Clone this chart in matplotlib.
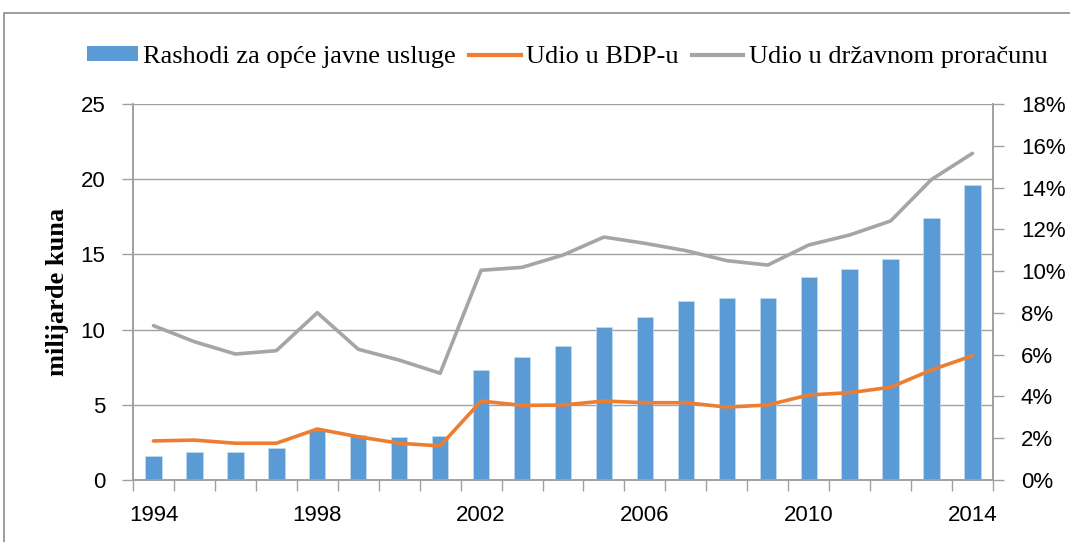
import numpy as np
import matplotlib
matplotlib.use("Agg")
from matplotlib import pyplot as plt
from matplotlib.patches import Rectangle, Patch
from matplotlib.lines import Line2D
from matplotlib.ticker import FuncFormatter, MultipleLocator

years = list(range(1994, 2015))
rashodi = [1.6, 1.86, 1.86, 2.1, 3.32, 3.0, 2.88, 2.93, 7.31, 8.16, 8.91,
           10.17, 10.84, 11.88, 12.08, 12.12, 13.48, 14.01, 14.69, 17.44, 19.63]
udio_bdp = [1.87, 1.91, 1.76, 1.76, 2.44, 2.07, 1.76, 1.63, 3.78, 3.57, 3.59,
            3.78, 3.70, 3.70, 3.49, 3.59, 4.07, 4.18, 4.44, 5.27, 5.95]
udio_proracun = [7.39, 6.62, 6.03, 6.19, 8.01, 6.26, 5.74, 5.11, 10.04, 10.18, 10.77,
                 11.63, 11.33, 10.98, 10.50, 10.29, 11.25, 11.73, 12.40, 14.39, 15.64]
year_labels = [str(y) if (y - 1994) % 4 == 0 else "" for y in years]

blue = "#5b9bd5"
orange = "#ed7d31"
grey = "#a5a5a5"
axis_grey = "#a0a0a0"

tick_font = "Liberation Sans"
serif_font = "Liberation Serif"

fig = plt.figure(figsize=(10.7, 5.42), dpi=100)
ax = fig.add_axes([133 / 1070, 62 / 542, 860 / 1070, 376 / 542])
ax2 = ax.twinx()

x = np.arange(len(years))
ax.bar(x, rashodi, width=0.4, color=blue, edgecolor="#c5dcf0", linewidth=0.5, zorder=2)
ax.set_xlim(-0.5, len(years) - 0.5)
ax.set_ylim(0, 25)
ax.yaxis.set_major_locator(MultipleLocator(5))
ax.grid(axis="y", color=axis_grey, linewidth=1.0, zorder=0)
ax.set_axisbelow(True)

ax2.plot(x, udio_bdp, color=orange, linewidth=2.6, solid_capstyle="round", zorder=3)
ax2.plot(x, udio_proracun, color=grey, linewidth=2.6, solid_capstyle="round", zorder=3)
ax2.set_ylim(0, 18)
ax2.yaxis.set_major_locator(MultipleLocator(2))
ax2.yaxis.set_major_formatter(FuncFormatter(lambda v, p: f"{v:.0f}%"))

# category ticks between bars, labels every 4 years
ax.set_xticks(np.arange(-0.5, len(years), 1.0))
ax.set_xticklabels([])
ax.set_xticks(x, minor=True)
ax.set_xticklabels(year_labels, minor=True)
ax.tick_params(axis="x", which="major", length=8, color=axis_grey, width=1)
ax.tick_params(axis="x", which="minor", length=0, pad=18)
ax.tick_params(axis="y", length=8, color=axis_grey, width=1, pad=12)
ax2.tick_params(axis="y", length=8, color=axis_grey, width=1, pad=12)

for a in (ax, ax2):
    for lab in a.get_xticklabels(minor=True) + a.get_yticklabels():
        lab.set_fontfamily(tick_font)
        lab.set_fontsize(16)
    a.spines["top"].set_visible(False)
    for side in ("left", "right", "bottom"):
        a.spines[side].set_color(axis_grey)
        a.spines[side].set_linewidth(1.2)

ax.set_ylabel("milijarde kuna", fontfamily=serif_font, fontweight="bold", fontsize=19, labelpad=8)

handles = [
    Patch(facecolor=blue, edgecolor="none"),
    Line2D([0], [0], color=orange, linewidth=3),
    Line2D([0], [0], color=grey, linewidth=3),
]
labels = ["Rashodi za opće javne usluge", "Udio u BDP-u", "Udio u državnom proračunu"]
fig.legend(handles, labels, loc="center", bbox_to_anchor=(567 / 1070, 1 - 57 / 542), ncol=3,
           frameon=False, prop={"family": serif_font, "size": 19},
           handlelength=1.95, handleheight=0.5, handletextpad=0.2, columnspacing=0.5)

# outer chart-area border
fig.patches.append(Rectangle((4 / 1070, -0.1), 1.2, 1.1 - 13 / 542, transform=fig.transFigure,
                             fill=False, edgecolor="#8c8c8c", linewidth=1.2))

fig.savefig("out.png", dpi=100)
